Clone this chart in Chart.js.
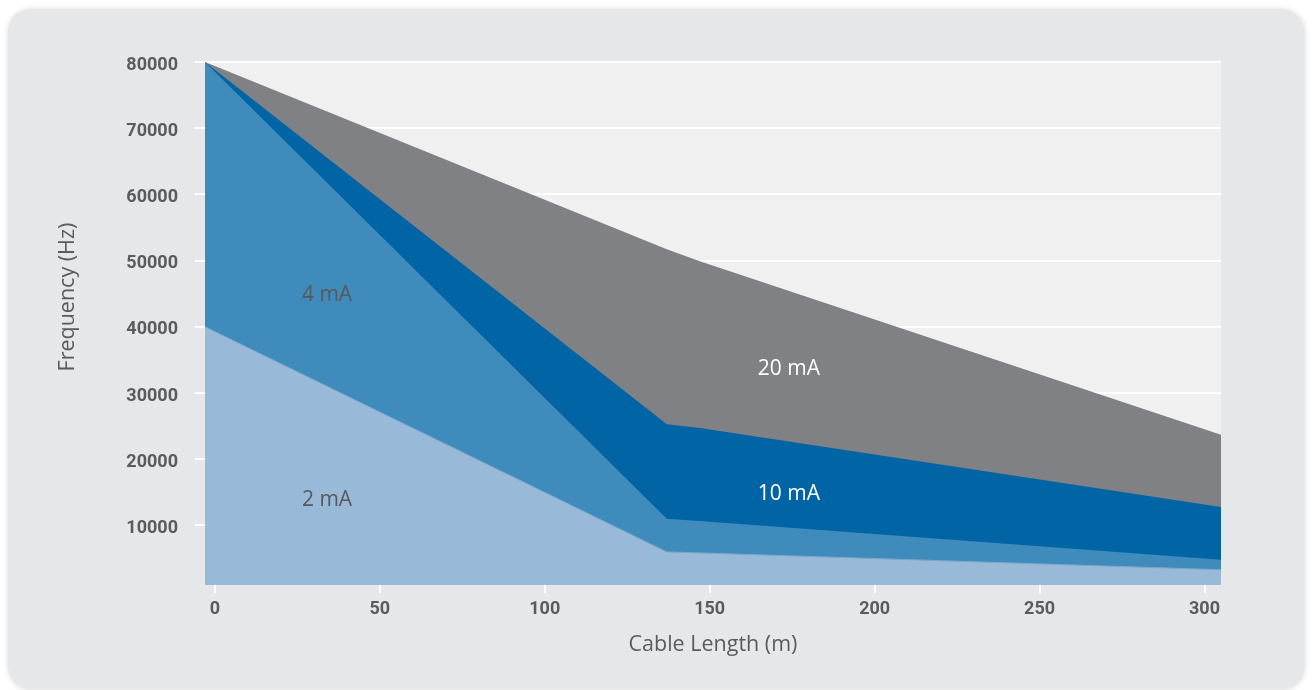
<!DOCTYPE html>
<html>
<head>
<meta charset="utf-8">
<title>Frequency vs. Cable Length</title>
<script src="https://cdn.jsdelivr.net/npm/chart.js@4/dist/chart.umd.min.js"></script>
<style>
  html, body { margin: 0; padding: 0; background: #ffffff; }
  #wrap { width: 1316px; height: 690px; position: relative; }
</style>
</head>
<body>
<div id="wrap"><canvas id="chart"></canvas></div>
<script>
// Cable length (m) at which each curve is sampled
const cableLength = [-3, 137, 147, 305];

// Maximum frequency (Hz) per loop current
const freq2mA  = [40000, 6000, 5850, 3300];
const freq4mA  = [80000, 11000, 10650, 4800];
const freq10mA = [80000, 25300, 24700, 12800];
const freq20mA = [80000, 51700, 49900, 23700];

const seriesNames = ['2 mA', '4 mA', '10 mA', '20 mA'];

// Tick values
const xTicks = [0, 50, 100, 150, 200, 250, 300];
const yTicks = [10000, 20000, 30000, 40000, 50000, 60000, 70000, 80000];

const xTitle = 'Cable Length (m)';
const yTitle = 'Frequency (Hz)';

// Where each series name sits, in data units
const nameAnchors = [
  { x: 34,  y: 13900 },
  { x: 34,  y: 44750 },
  { x: 174, y: 14800 },
  { x: 174, y: 33700 }
];

const fills   = ['#98b9d7', '#3f8bbb', '#0064a5', '#808185'];
const borders = ['#7fa7cc', '#3f8bbb', '#0064a5', '#808185'];
const nameColors = ['#58595b', '#58595b', '#ffffff', '#ffffff'];
const textGray = '#5a5b5d';

const seriesValues = [freq2mA, freq4mA, freq10mA, freq20mA];

const datasets = seriesValues.map((vals, i) => ({
  label: seriesNames[i],
  data: vals.map((v, j) => ({ x: cableLength[j], y: v })),
  backgroundColor: fills[i],
  borderColor: borders[i],
  borderWidth: i === 0 ? 1 : 0,
  pointRadius: 0,
  tension: 0,
  fill: 'start'
}));

// Card behind the whole chart and the plot panel
const backdrop = {
  id: 'backdrop',
  beforeDraw(chart) {
    const ctx = chart.ctx;
    const a = chart.chartArea;
    ctx.save();
    ctx.shadowColor = 'rgba(0,0,0,0.18)';
    ctx.shadowBlur = 6;
    ctx.shadowOffsetX = 1;
    ctx.shadowOffsetY = 1;
    ctx.fillStyle = '#e6e7e9';
    ctx.beginPath();
    ctx.roundRect(8, 9, 1295, 679, 22);
    ctx.fill();
    ctx.restore();
    ctx.save();
    ctx.fillStyle = '#f0f0f1';
    ctx.fillRect(a.left, a.top, a.right - a.left, a.bottom - a.top);
    ctx.restore();
  }
};

// Series names inside their bands, plus the two axis titles
const annotations = {
  id: 'annotations',
  afterDatasetsDraw(chart) {
    const ctx = chart.ctx;
    const xs = chart.scales.x, ys = chart.scales.y;
    ctx.save();
    ctx.font = '21px "Open Sans", "Noto Sans", sans-serif';
    ctx.textAlign = 'center';
    ctx.textBaseline = 'middle';
    nameAnchors.forEach((p, i) => {
      ctx.fillStyle = nameColors[i];
      ctx.fillText(seriesNames[i], xs.getPixelForValue(p.x), ys.getPixelForValue(p.y));
    });
    ctx.restore();
  },
  afterDraw(chart) {
    const ctx = chart.ctx;
    const xs = chart.scales.x, ys = chart.scales.y;
    ctx.save();
    ctx.font = '21.5px "Open Sans", "Noto Sans", sans-serif';
    ctx.fillStyle = textGray;
    ctx.textAlign = 'center';
    ctx.textBaseline = 'middle';
    ctx.fillText(xTitle, (xs.left + xs.right) / 2, 645);
    ctx.translate(68, ys.getPixelForValue(44500));
    ctx.rotate(-Math.PI / 2);
    ctx.fillText(yTitle, 0, 0);
    ctx.restore();
  }
};

const tickFont = { family: 'Roboto, "Liberation Sans", sans-serif', size: 18, weight: 'bold' };

new Chart(document.getElementById('chart'), {
  type: 'line',
  data: { datasets },
  plugins: [backdrop, annotations],
  options: {
    responsive: true,
    maintainAspectRatio: false,
    animation: false,
    layout: { padding: { left: 0, right: 95, top: 62, bottom: 0 } },
    plugins: {
      legend: { display: false },
      tooltip: { enabled: false }
    },
    scales: {
      x: {
        type: 'linear',
        min: -3,
        max: 305,
        afterBuildTicks(scale) { scale.ticks = xTicks.map(v => ({ value: v })); },
        afterFit(scale) { scale.height = 105; },
        border: { display: false },
        grid: { drawOnChartArea: false, drawTicks: true, tickLength: 8, color: '#ffffff', lineWidth: 2 },
        ticks: { color: textGray, font: tickFont, padding: 6, maxRotation: 0 }
      },
      y: {
        type: 'linear',
        min: 1000,
        max: 80000,
        afterBuildTicks(scale) { scale.ticks = yTicks.map(v => ({ value: v })); },
        afterFit(scale) { scale.width = 205; },
        border: { display: false },
        grid: { drawOnChartArea: true, drawTicks: true, tickLength: 10, color: '#ffffff', lineWidth: 2 },
        ticks: { color: textGray, font: tickFont, padding: 17, labelOffset: 3, callback: v => String(v) }
      }
    }
  }
});
</script>
</body>
</html>
